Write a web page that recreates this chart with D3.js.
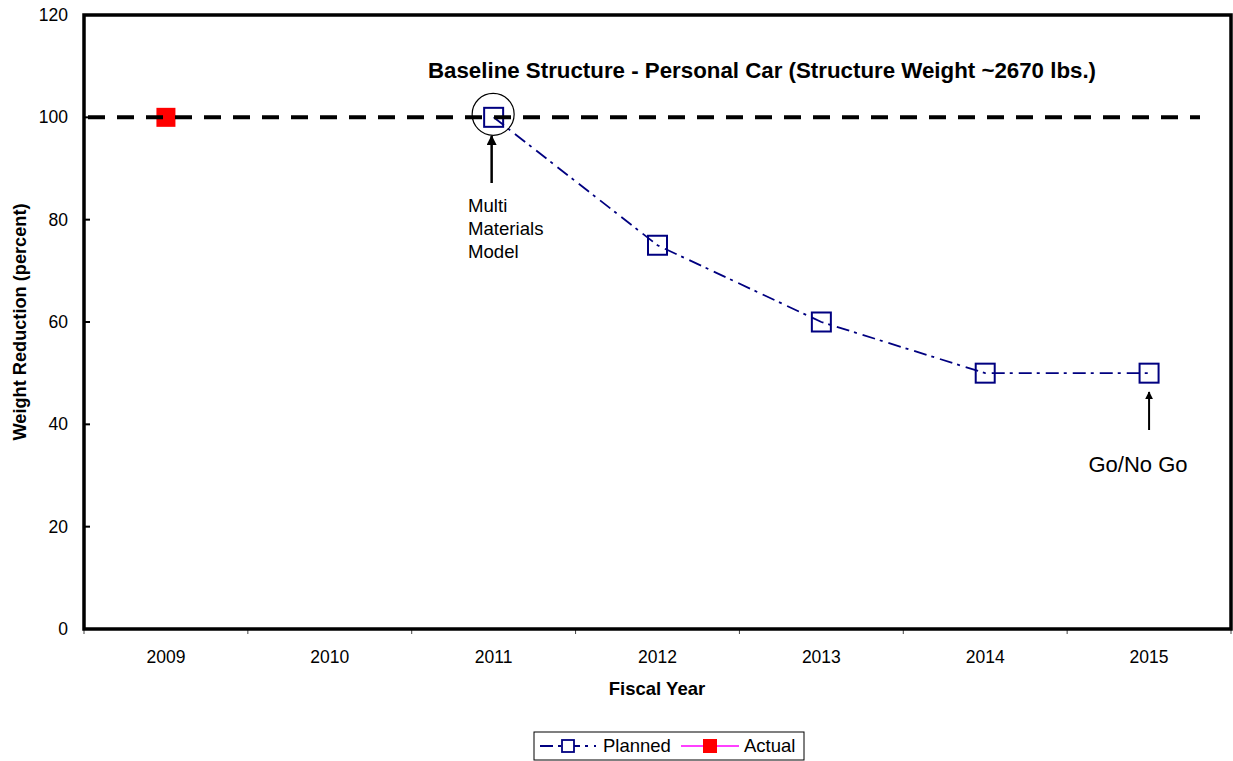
<!DOCTYPE html>
<html>
<head>
<meta charset="utf-8">
<script src="https://cdn.jsdelivr.net/npm/d3@7"></script>
<style>
  html, body { margin: 0; padding: 0; background: #fff; }
  svg { display: block; font-family: "Liberation Sans", Arial, sans-serif; }
</style>
</head>
<body>
<svg id="chart" width="1233" height="761"></svg>
<script>
// ---- data ----
const years = ["2009", "2010", "2011", "2012", "2013", "2014", "2015"];
const plannedYears = ["2011", "2012", "2013", "2014", "2015"];
const plannedValues = [100, 75, 60, 50, 50];
const actualYears = ["2009"];
const actualValues = [100];
const baselineValue = 100;
const yTicks = [0, 20, 40, 60, 80, 100, 120];
const titleText = "Baseline Structure - Personal Car (Structure Weight ~2670 lbs.)";
const yLabel = "Weight Reduction (percent)";
const xLabel = "Fiscal Year";
const seriesNames = ["Planned", "Actual"];

// ---- layout ----
const svg = d3.select("#chart");
const L = 84, R = 1231, T = 15, B = 629;
const x = d3.scaleBand().domain(years).range([L, R]);
const y = d3.scaleLinear().domain([0, 120]).range([B, T]);
const navy = "#000080";

// y tick labels
svg.append("g").selectAll("text").data(yTicks).join("text")
  .attr("x", 68).attr("y", d => y(d)).attr("dy", "0.35em")
  .attr("text-anchor", "end").attr("font-size", 17.5).attr("fill", "#000")
  .text(d => d);

// y inner ticks
svg.append("g").selectAll("line").data(yTicks).join("line")
  .attr("x1", L).attr("x2", L + 6).attr("y1", d => y(d)).attr("y2", d => y(d))
  .attr("stroke", "#000").attr("stroke-width", 2);

// x axis ticks at band boundaries
const bounds = years.map(d => x(d)).concat([x(years[years.length - 1]) + x.bandwidth()]);
svg.append("g").selectAll("line").data(bounds).join("line")
  .attr("x1", d => d).attr("x2", d => d).attr("y1", B).attr("y2", B + 5)
  .attr("stroke", "#444").attr("stroke-width", 1);

// x tick labels
svg.append("g").selectAll("text").data(years).join("text")
  .attr("x", d => x(d) + x.bandwidth() / 2).attr("y", 663)
  .attr("text-anchor", "middle").attr("font-size", 17.5).attr("fill", "#000")
  .text(d => d);

// plot border
svg.append("rect").attr("x", L).attr("y", T).attr("width", R - L).attr("height", B - T)
  .attr("fill", "none").attr("stroke", "#000").attr("stroke-width", 3.5);

// axis titles
svg.append("text").attr("transform", `translate(26,${(T + B) / 2}) rotate(-90)`)
  .attr("text-anchor", "middle").attr("font-size", 18.2).attr("font-weight", "bold")
  .text(yLabel);
svg.append("text").attr("x", 657).attr("y", 695).attr("text-anchor", "middle")
  .attr("font-size", 18.5).attr("font-weight", "bold").text(xLabel);

// chart title annotation
svg.append("text").attr("x", 762).attr("y", 78).attr("text-anchor", "middle")
  .attr("font-size", 22.3).attr("font-weight", "bold").text(titleText);

const cx = d => x(d) + x.bandwidth() / 2;

// planned line
const planned = plannedYears.map((d, i) => ({ x: d, v: plannedValues[i] }));
svg.append("path").datum(planned)
  .attr("d", d3.line().x(d => cx(d.x)).y(d => y(d.v)))
  .attr("fill", "none").attr("stroke", navy).attr("stroke-width", 1.8)
  .attr("stroke-dasharray", "13 5 3 6");
svg.append("g").selectAll("rect").data(planned).join("rect")
  .attr("x", d => cx(d.x) - 9.5).attr("y", d => y(d.v) - 9.5)
  .attr("width", 19).attr("height", 19)
  .attr("fill", "none").attr("stroke", navy).attr("stroke-width", 2);

// actual markers
const actual = actualYears.map((d, i) => ({ x: d, v: actualValues[i] }));
svg.append("g").selectAll("rect").data(actual).join("rect")
  .attr("x", d => cx(d.x) - 9.5).attr("y", d => y(d.v) - 9.5)
  .attr("width", 19).attr("height", 19).attr("fill", "#ff0000");

// baseline dashed line
svg.append("line")
  .attr("x1", L + 4).attr("x2", 1200).attr("y1", y(baselineValue)).attr("y2", y(baselineValue))
  .attr("stroke", "#000").attr("stroke-width", 4).attr("stroke-dasharray", "17 12");

// circle annotation around 2011 point
svg.append("circle").attr("cx", cx("2011") - 0.5).attr("cy", y(100) - 3).attr("r", 21)
  .attr("fill", "none").attr("stroke", "#000").attr("stroke-width", 1.2);

// arrows
const defs = svg.append("defs");
defs.append("marker").attr("id", "arrow").attr("viewBox", "0 0 10 10")
  .attr("refX", 9).attr("refY", 5).attr("markerWidth", 4).attr("markerHeight", 4)
  .attr("markerUnits", "strokeWidth").attr("orient", "auto")
  .append("path").attr("d", "M0,0 L10,5 L0,10 z").attr("fill", "#000");

svg.append("line").attr("x1", cx("2011") - 2).attr("x2", cx("2011") - 2)
  .attr("y1", 183).attr("y2", 136)
  .attr("stroke", "#000").attr("stroke-width", 2.5).attr("marker-end", "url(#arrow)");
svg.append("line").attr("x1", cx("2015")).attr("x2", cx("2015"))
  .attr("y1", 430).attr("y2", 392)
  .attr("stroke", "#000").attr("stroke-width", 2).attr("marker-end", "url(#arrow)");

// annotation texts
const mm = svg.append("text").attr("font-size", 18.6).attr("fill", "#000");
["Multi", "Materials", "Model"].forEach((t, i) => {
  mm.append("tspan").attr("x", 468).attr("y", 212 + i * 23).text(t);
});
svg.append("text").attr("x", 1138).attr("y", 472).attr("text-anchor", "middle")
  .attr("font-size", 22).attr("fill", "#000").text("Go/No Go");

// legend
const lg = svg.append("g");
lg.append("rect").attr("x", 534).attr("y", 732).attr("width", 270).attr("height", 28)
  .attr("fill", "#fff").attr("stroke", "#000").attr("stroke-width", 1);
const ly = 746;
lg.append("line").attr("x1", 540).attr("x2", 596).attr("y1", ly).attr("y2", ly)
  .attr("stroke", navy).attr("stroke-width", 1.8).attr("stroke-dasharray", "13 5 3 6");
lg.append("rect").attr("x", 562).attr("y", ly - 6).attr("width", 12).attr("height", 12)
  .attr("fill", "#fff").attr("stroke", navy).attr("stroke-width", 1.8);
lg.append("text").attr("x", 603).attr("y", ly).attr("dy", "0.35em")
  .attr("font-size", 18.5).text(seriesNames[0]);
lg.append("line").attr("x1", 681).attr("x2", 739).attr("y1", ly).attr("y2", ly)
  .attr("stroke", "#ff00ff").attr("stroke-width", 1.5);
lg.append("rect").attr("x", 703).attr("y", ly - 7).attr("width", 14).attr("height", 14)
  .attr("fill", "#ff0000");
lg.append("text").attr("x", 744).attr("y", ly).attr("dy", "0.35em")
  .attr("font-size", 18.5).text(seriesNames[1]);
</script>
</body>
</html>
